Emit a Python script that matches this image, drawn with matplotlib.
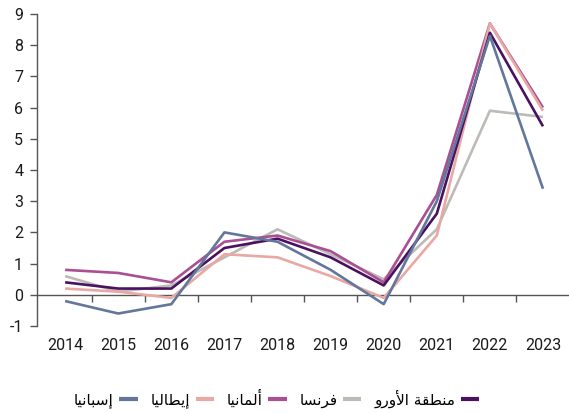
import matplotlib
matplotlib.use("Agg")
import matplotlib.pyplot as plt
from matplotlib.ticker import FixedLocator, NullFormatter

years = ["2014", "2015", "2016", "2017", "2018", "2019", "2020", "2021", "2022", "2023"]
euro = [0.4, 0.2, 0.2, 1.5, 1.8, 1.2, 0.3, 2.6, 8.4, 5.4]
france = [0.6, 0.1, 0.3, 1.2, 2.1, 1.3, 0.5, 2.1, 5.9, 5.7]
germany = [0.8, 0.7, 0.4, 1.7, 1.9, 1.4, 0.4, 3.2, 8.7, 6.0]
italy = [0.2, 0.1, -0.1, 1.3, 1.2, 0.6, -0.1, 1.9, 8.7, 5.9]
spain = [-0.2, -0.6, -0.3, 2.0, 1.7, 0.8, -0.3, 3.0, 8.3, 3.4]

names = ["منطقة الأورو", "فرنسا", "ألمانيا", "إيطاليا", "إسبانيا"]
yticks = [-1, 0, 1, 2, 3, 4, 5, 6, 7, 8, 9]

colors = ["#4B1060", "#BDBBB6", "#A94F93", "#E8A8A4", "#62779B"]

# --- simple Arabic shaping (presentation forms) since matplotlib has no shaping ---
FORMS = {
    '\u0627': ('\uFE8D', '\uFE8E', None, None),
    '\u0623': ('\uFE83', '\uFE84', None, None),
    '\u0625': ('\uFE87', '\uFE88', None, None),
    '\u0628': ('\uFE8F', '\uFE90', '\uFE91', '\uFE92'),
    '\u0629': ('\uFE93', '\uFE94', None, None),
    '\u0631': ('\uFEAD', '\uFEAE', None, None),
    '\u0633': ('\uFEB1', '\uFEB2', '\uFEB3', '\uFEB4'),
    '\u0637': ('\uFEC1', '\uFEC2', '\uFEC3', '\uFEC4'),
    '\u0641': ('\uFED1', '\uFED2', '\uFED3', '\uFED4'),
    '\u0642': ('\uFED5', '\uFED6', '\uFED7', '\uFED8'),
    '\u0644': ('\uFEDD', '\uFEDE', '\uFEDF', '\uFEE0'),
    '\u0645': ('\uFEE1', '\uFEE2', '\uFEE3', '\uFEE4'),
    '\u0646': ('\uFEE5', '\uFEE6', '\uFEE7', '\uFEE8'),
    '\u0648': ('\uFEED', '\uFEEE', None, None),
    '\u064A': ('\uFEF1', '\uFEF2', '\uFEF3', '\uFEF4'),
}
LAMALEF = {'\u0622': ('\uFEF5', '\uFEF6'), '\u0623': ('\uFEF7', '\uFEF8'),
           '\u0625': ('\uFEF9', '\uFEFA'), '\u0627': ('\uFEFB', '\uFEFC')}


def shape(text):
    toks = []
    i = 0
    while i < len(text):
        c = text[i]
        if c == '\u0644' and i + 1 < len(text) and text[i + 1] in LAMALEF:
            toks.append(('LA', text[i + 1]))
            i += 2
        else:
            toks.append(('C', c))
            i += 1

    def is_ar(t):
        return t[0] == 'LA' or t[1] in FORMS

    def dual(t):
        return t[0] == 'C' and t[1] in FORMS and FORMS[t[1]][2] is not None

    out = []
    for k, t in enumerate(toks):
        if not is_ar(t):
            out.append(t[1])
            continue
        prev_ok = k > 0 and dual(toks[k - 1])
        next_ok = dual(t) and k + 1 < len(toks) and is_ar(toks[k + 1])
        if t[0] == 'LA':
            out.append(LAMALEF[t[1]][1 if prev_ok else 0])
            continue
        f = FORMS[t[1]]
        if prev_ok and next_ok:
            out.append(f[3])
        elif prev_ok:
            out.append(f[1])
        elif next_ok:
            out.append(f[2])
        else:
            out.append(f[0])
    return ''.join(out)[::-1]


plt.rcParams['font.family'] = ['Roboto', 'DejaVu Sans']

fig = plt.figure(figsize=(5.69, 4.13), dpi=100)
ax = fig.add_axes([37 / 569, 87 / 413, 532 / 569, 312 / 413])

x = list(range(len(years)))
series = [euro, france, germany, italy, spain]
zorders = [5, 2, 3, 4, 6]
lines = []
for s, c, n, z in zip(series, colors, names, zorders):
    ln, = ax.plot(x, s, color=c, lw=1.9, label=shape(n), zorder=z, solid_capstyle='butt')
    lines.append(ln)

ax.set_xlim(-0.53, 9.49)
ax.set_ylim(-1, 9)
ax.set_yticks(yticks)
ax.set_yticklabels([str(v) for v in yticks])

axis_col = "#555555"
for sp in ['top', 'right', 'bottom']:
    ax.spines[sp].set_visible(False)
ax.spines['left'].set_color(axis_col)
ax.spines['left'].set_linewidth(1.0)
ax.tick_params(axis='y', direction='out', length=5, width=1.0, color=axis_col,
               labelsize=11.5, pad=5, labelcolor='#1a1a1a')
ax.set_xticks(x)
ax.set_xticklabels(years)
ax.tick_params(axis='x', length=0, labelsize=11.5, pad=9, labelcolor='#1a1a1a')

# zero line with ticks between categories
sec = ax.secondary_xaxis(0.1)
sec.spines['bottom'].set_color(axis_col)
sec.spines['bottom'].set_linewidth(1.0)
sec.xaxis.set_major_locator(FixedLocator([i + 0.5 for i in range(len(years))]))
sec.xaxis.set_major_formatter(NullFormatter())
sec.tick_params(axis='x', direction='out', length=5, width=1.0, color=axis_col)

order = [4, 3, 2, 1, 0]
leg = fig.legend([lines[i] for i in order], [shape(names[i]) for i in order],
                 loc='center', bbox_to_anchor=(0.486, 0.035), ncol=5, frameon=False,
                 markerfirst=False, handlelength=1.2, handletextpad=0.35,
                 columnspacing=0.85, prop={'family': ['DejaVu Sans'], 'size': 11})
for h in leg.get_lines():
    h.set_linewidth(3)

fig.savefig("out.png", dpi=100)
